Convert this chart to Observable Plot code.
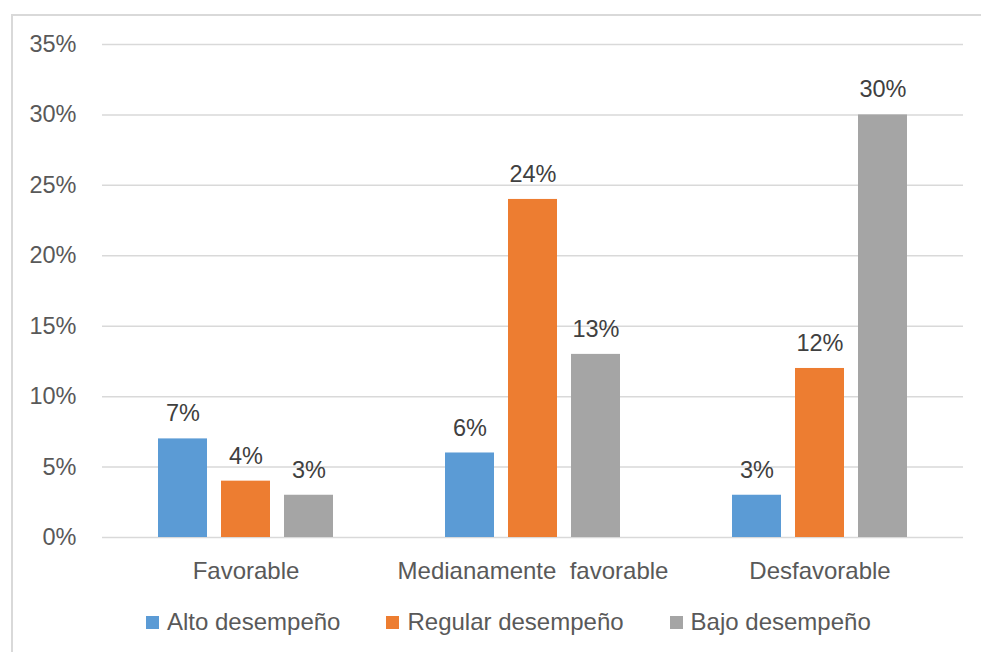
<!DOCTYPE html>
<html>
<head>
<meta charset="utf-8">
<script src="https://cdn.jsdelivr.net/npm/d3@7"></script>
<script src="https://cdn.jsdelivr.net/npm/@observablehq/plot@0.6"></script>
<style>
  html, body { margin: 0; padding: 0; background: #fff; }
  body { width: 981px; height: 652px; position: relative; overflow: hidden; font-family: "Liberation Sans", Arial, sans-serif; }
  #frame { position: absolute; left: 11px; top: 14px; width: 1000px; height: 700px; border: 2px solid #d9d9d9; box-sizing: border-box; }
  #chart { position: absolute; left: 0; top: 0; }
  #legend { position: absolute; left: 146px; top: 608px; height: 28px; display: flex; align-items: center; font-size: 24px; line-height: 28px; color: #595959; white-space: nowrap; }
  #legend .item { display: flex; align-items: center; margin-right: 46px; }
  #legend .sw { width: 13px; height: 13px; margin-right: 8px; }
</style>
</head>
<body>
<div id="frame"></div>
<div id="chart"></div>
<div id="legend"></div>
<script>
const categories = ["Favorable", "Medianamente  favorable", "Desfavorable"];
const series = ["Alto desempeño", "Regular desempeño", "Bajo desempeño"];
const colors = ["#5b9bd5", "#ed7d31", "#a5a5a5"];
const alto = [7, 6, 3];
const regular = [4, 24, 12];
const bajo = [3, 13, 30];
const yTicks = [0, 5, 10, 15, 20, 25, 30, 35];

const valuesBySeries = [alto, regular, bajo];
const data = [];
categories.forEach((c, i) => {
  series.forEach((s, j) => data.push({cat: c, series: s, value: valuesBySeries[j][i]}));
});

const FONT = "Liberation Sans, Arial, sans-serif";

const plot = Plot.plot({
  width: 981,
  height: 590,
  marginTop: 44,
  marginBottom: 53,
  marginLeft: 101,
  marginRight: 18,
  style: {fontFamily: FONT, fontSize: "24px", color: "#595959", background: "transparent"},
  fx: {domain: categories, padding: 0, label: null},
  x: {domain: series, paddingInner: 0.22, paddingOuter: 0.87, axis: null},
  y: {domain: [0, 35], label: null},
  color: {domain: series, range: colors},
  marks: [
    Plot.gridY(yTicks, {stroke: "#d9d9d9", strokeOpacity: 1, strokeWidth: 1.5}),
    Plot.axisY(yTicks, {tickSize: 0, tickPadding: 26, tickFormat: d => d + "%", label: null, fontSize: 23.5, fill: "#595959"}),
    Plot.axisFx({anchor: "bottom", tickSize: 0, tickPadding: 24, label: null, fontSize: 24, fill: "#595959"}),
    Plot.barY(data, {fx: "cat", x: "series", y: "value", fill: "series"}),
    Plot.text(data, {fx: "cat", x: "series", y: "value", text: d => d.value + "%", dy: -25, fill: "#404040", fontSize: 23.5})
  ]
});
document.getElementById("chart").appendChild(plot);

const legend = document.getElementById("legend");
series.forEach((s, i) => {
  const item = document.createElement("div");
  item.className = "item";
  const sw = document.createElement("div");
  sw.className = "sw";
  sw.style.background = colors[i];
  const t = document.createElement("span");
  t.textContent = s;
  item.appendChild(sw);
  item.appendChild(t);
  legend.appendChild(item);
});
</script>
</body>
</html>
